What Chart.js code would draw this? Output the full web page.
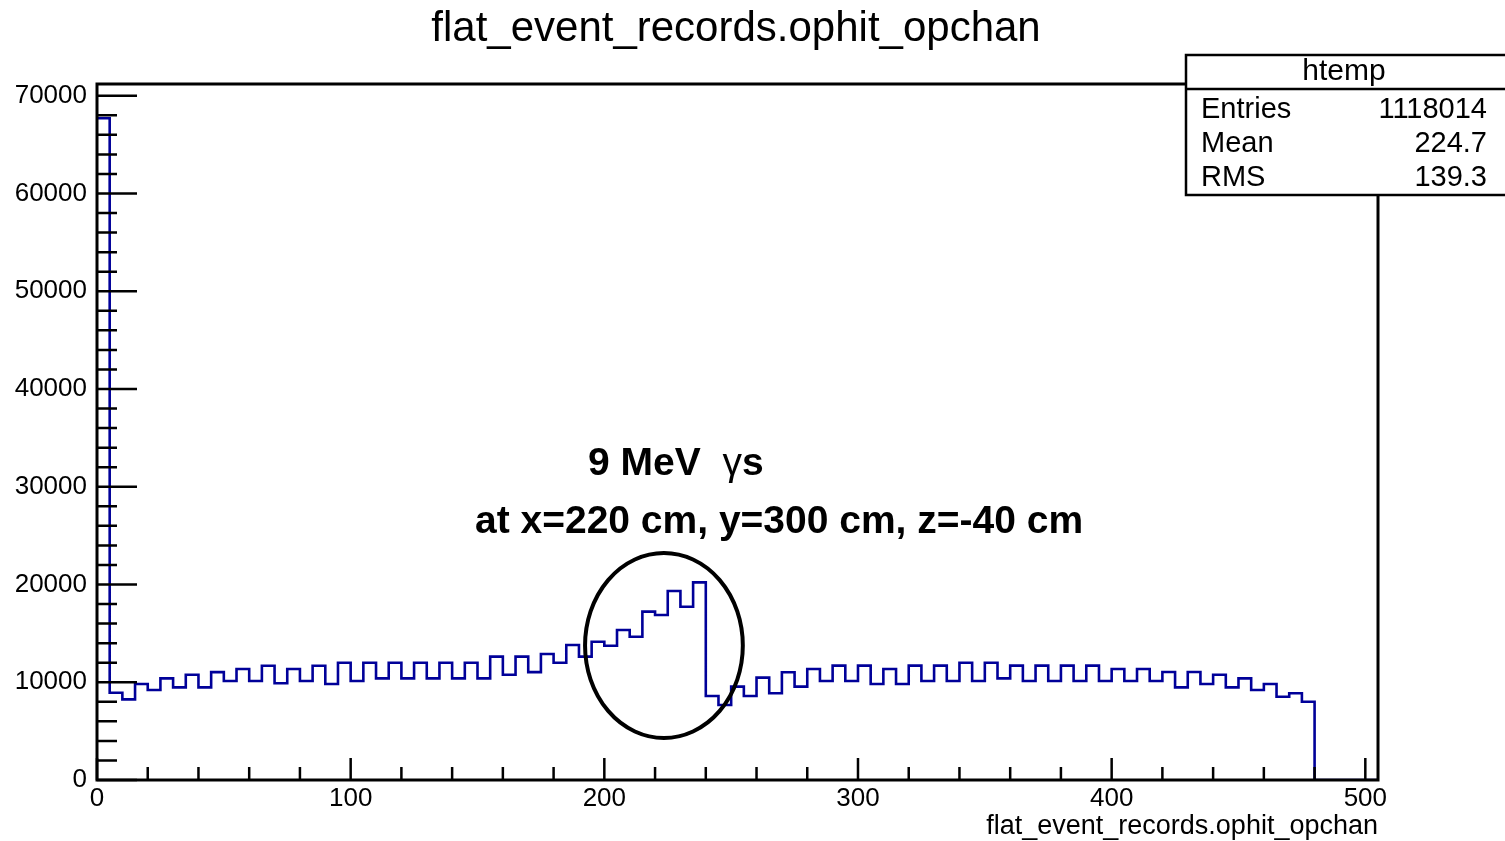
<!DOCTYPE html>
<html>
<head>
<meta charset="utf-8">
<script src="https://cdn.jsdelivr.net/npm/chart.js@4.4.1/dist/chart.umd.min.js"></script>
<style>
  html, body { margin: 0; padding: 0; background: #fff; }
</style>
</head>
<body>
<canvas id="hist" width="1505" height="841"></canvas>
<script>
// histogram of flat_event_records.ophit_opchan, 101 bins of width 5 (0..505)
const binWidth = 5;
const counts = [
  67700, 8930, 8250, 9820, 9210, 10400, 9480, 10770, 9480, 11040,
  10120, 11350, 10120, 11690, 9890, 11350, 10120, 11690, 9820, 12000,
  10120, 12000, 10400, 12000, 10400, 12000, 10400, 12000, 10400, 12000,
  10400, 12620, 10770, 12620, 11040, 12890, 12000, 13810, 12620, 14150,
  13740, 15345, 14660, 17220, 16880, 19335, 17730, 20220, 8590, 7670,
  9550, 8590, 10470, 8870, 11020, 9550, 11360, 10130, 11700, 10130,
  11700, 9820, 11360, 9820, 11700, 10130, 11700, 10130, 12000, 10130,
  12000, 10400, 11700, 10130, 11700, 10130, 11700, 10130, 11700, 10130,
  11360, 10130, 11360, 10130, 11050, 9480, 11050, 9820, 10770, 9480,
  10400, 9210, 9820, 8520, 8870, 8010, 0, 0, 0, 0,
  0
];
const binLow = counts.map((_, i) => i * binWidth);

const xRange = [0, 505];
const yRange = [0, 71200];
const xTicks = [0, 100, 200, 300, 400, 500];
const yTicks = [0, 10000, 20000, 30000, 40000, 50000, 60000, 70000];
const xMinorStep = 20;
const yMinorStep = 2000;

const histName = 'htemp';
const statLabels = ['Entries', 'Mean', 'RMS'];
const statValues = ['1118014', '224.7', '139.3'];

// annotation (data coordinates)
const noteLine1 = ['9 MeV  ', 'γ', 's'];
const noteLine2 = 'at x=220 cm, y=300 cm, z=-40 cm';
const notePos1 = { x: 193.6, y: 31200 };
const notePos2 = { x: 149, y: 25270 };
const ringCenter = { x: 223.5, y: 13760 };
const ringRadius = { x: 31.1, y: 9460 };

const FONT = '"Liberation Sans", Arial, Helvetica, sans-serif';

// one point per bin low edge, plus the closing upper edge
const points = binLow.map((x, i) => ({ x: x, y: counts[i] }));
points.push({ x: xRange[1], y: counts[counts.length - 1] });

const rootStyle = {
  id: 'rootStyle',
  afterDatasetsDraw(chart) {
    const { ctx, chartArea: a, scales: { x, y } } = chart;
    ctx.save();
    ctx.strokeStyle = '#000';
    ctx.lineWidth = 2.5;
    ctx.beginPath();
    for (let v = xRange[0]; v <= xRange[1]; v += xMinorStep) {
      const px = x.getPixelForValue(v);
      const len = xTicks.includes(v) ? 22 : 13;
      ctx.moveTo(px, a.bottom);
      ctx.lineTo(px, a.bottom - len);
    }
    for (let v = yRange[0]; v <= yRange[1]; v += yMinorStep) {
      const py = y.getPixelForValue(v);
      const len = yTicks.includes(v) ? 40 : 20;
      ctx.moveTo(a.left, py);
      ctx.lineTo(a.left + len, py);
    }
    ctx.stroke();
    ctx.lineWidth = 3;
    ctx.strokeRect(a.left, a.top, a.right - a.left, a.bottom - a.top);
    ctx.restore();
  },
  afterDraw(chart) {
    const { ctx, scales: { x, y } } = chart;
    ctx.save();
    ctx.fillStyle = '#000';
    ctx.strokeStyle = '#000';

    // title
    ctx.font = '42px ' + FONT;
    ctx.textAlign = 'center';
    ctx.textBaseline = 'alphabetic';
    ctx.fillText('flat_event_records.ophit_opchan', 736, 41);

    // stats box
    ctx.fillStyle = '#fff';
    ctx.fillRect(1186, 55, 330, 140);
    ctx.lineWidth = 2.5;
    ctx.strokeRect(1186, 55, 330, 140);
    ctx.beginPath();
    ctx.moveTo(1186, 89);
    ctx.lineTo(1510, 89);
    ctx.stroke();
    ctx.fillStyle = '#000';
    ctx.font = '30px ' + FONT;
    ctx.textAlign = 'center';
    ctx.fillText(histName, 1344, 80);
    ctx.font = '29px ' + FONT;
    statLabels.forEach((lab, i) => {
      const base = 118 + i * 34;
      ctx.textAlign = 'left';
      ctx.fillText(lab, 1201, base);
      ctx.textAlign = 'right';
      ctx.fillText(statValues[i], 1487, base);
    });

    // annotation text
    ctx.textAlign = 'left';
    let px = x.getPixelForValue(notePos1.x);
    const py1 = y.getPixelForValue(notePos1.y);
    noteLine1.forEach((part, i) => {
      ctx.font = (i === 1 ? '' : 'bold ') + '39px ' + FONT;
      ctx.fillText(part, px, py1);
      px += ctx.measureText(part).width;
    });
    ctx.font = 'bold 39px ' + FONT;
    ctx.fillText(noteLine2, x.getPixelForValue(notePos2.x), y.getPixelForValue(notePos2.y));

    // ring around the peak
    const cx = x.getPixelForValue(ringCenter.x);
    const cy = y.getPixelForValue(ringCenter.y);
    const rx = x.getPixelForValue(ringCenter.x + ringRadius.x) - cx;
    const ry = cy - y.getPixelForValue(ringCenter.y + ringRadius.y);
    ctx.lineWidth = 4;
    ctx.beginPath();
    ctx.ellipse(cx, cy, rx, ry, 0, 0, Math.PI * 2);
    ctx.stroke();
    ctx.restore();
  }
};

new Chart(document.getElementById('hist').getContext('2d'), {
  type: 'line',
  data: {
    datasets: [{
      data: points,
      stepped: 'before',
      borderColor: '#000099',
      borderWidth: 2.6,
      pointRadius: 0,
      fill: false
    }]
  },
  options: {
    responsive: false,
    animation: false,
    layout: { padding: { top: 84, right: 127, left: 0, bottom: 0 } },
    plugins: {
      legend: { display: false },
      tooltip: { enabled: false }
    },
    scales: {
      x: {
        type: 'linear',
        min: xRange[0],
        max: xRange[1],
        grid: { display: false, drawTicks: false },
        border: { display: false },
        afterBuildTicks: s => { s.ticks = xTicks.map(v => ({ value: v })); },
        afterFit: s => { s.height = 61; },
        ticks: {
          font: { family: FONT, size: 26 },
          color: '#000',
          padding: 3,
          maxRotation: 0,
          autoSkip: false,
          callback: v => String(v)
        },
        title: {
          display: true,
          text: 'flat_event_records.ophit_opchan',
          align: 'end',
          color: '#000',
          font: { family: FONT, size: 27, lineHeight: 1 },
          padding: { top: 0, bottom: 1 }
        }
      },
      y: {
        min: yRange[0],
        max: yRange[1],
        grid: { display: false, drawTicks: false },
        border: { display: false },
        afterBuildTicks: s => { s.ticks = yTicks.map(v => ({ value: v })); },
        afterFit: s => { s.width = 97; },
        ticks: {
          font: { family: FONT, size: 26 },
          color: '#000',
          padding: 10,
          autoSkip: false,
          callback: v => String(v)
        }
      }
    }
  },
  plugins: [rootStyle]
});
</script>
</body>
</html>
